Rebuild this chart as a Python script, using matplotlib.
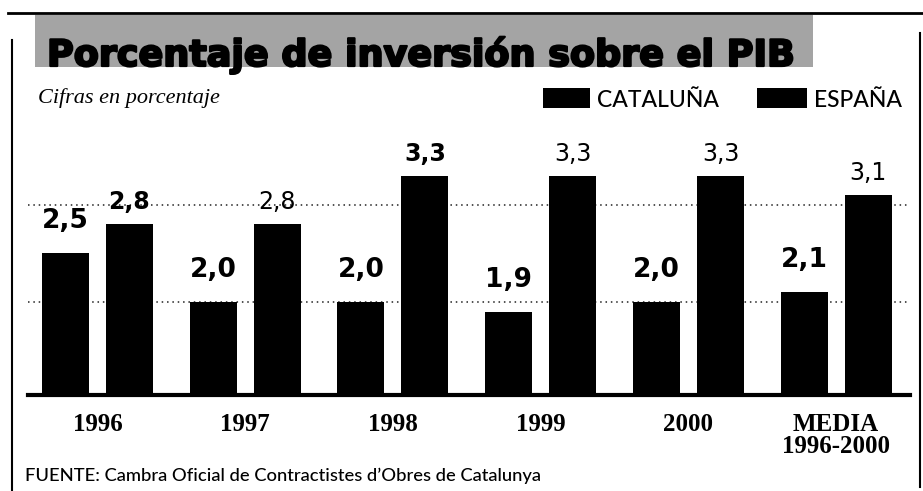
import matplotlib.pyplot as plt
import matplotlib.patches as mpatches
import matplotlib.patheffects as pe
import numpy as np

# datos
years = ['1996', '1997', '1998', '1999', '2000', 'MEDIA\n1996-2000']
cataluna = [2.5, 2.0, 2.0, 1.9, 2.0, 2.1]
espana = [2.8, 2.8, 3.3, 3.3, 3.3, 3.1]
cat_labels = ['2,5', '2,0', '2,0', '1,9', '2,0', '2,1']
esp_labels = ['2,8', '2,8', '3,3', '3,3', '3,3', '3,1']
esp_weights = ['bold', 'normal', 'bold', 'normal', 'normal', 'normal']

W, H = 923, 491
SANS = ['Lato', 'DejaVu Sans']
WIDE = ['DejaVu Sans']
SERIF = ['Liberation Serif', 'DejaVu Serif']


def fx(px):
    return px / W


def fy(py):
    return 1 - py / H


def box(x0, y0, x1, y1, color, z=0):
    fig.add_artist(mpatches.Rectangle((fx(x0), fy(y1)), fx(x1) - fx(x0), fy(y0) - fy(y1),
                                      transform=fig.transFigure, color=color, lw=0, zorder=z))


fig = plt.figure(figsize=(W / 100, H / 100), dpi=100)
fig.patch.set_facecolor('white')

# marco y cabecera
fig.add_artist(plt.Line2D([fx(8), fx(923)], [fy(13), fy(13)], color='black', lw=2))
fig.add_artist(plt.Line2D([fx(12), fx(12)], [fy(40), fy(491)], color='black', lw=1.5))
fig.add_artist(plt.Line2D([fx(920), fx(920)], [fy(33), fy(487)], color='black', lw=1.5))
box(35, 15, 813, 67, '#a4a4a4')

title = fig.text(fx(47), fy(66), 'Porcentaje de inversión sobre el PIB', family=WIDE,
                 weight='bold', fontsize=27, va='baseline', ha='left', color='black',
                 path_effects=[pe.withStroke(linewidth=1.6, foreground='black')])
# ajustar el titulo al ancho de la banda gris
r = fig.canvas.get_renderer()
tw = title.get_window_extent(r).width
title.set_fontsize(27 * 748 / tw)

fig.text(fx(38), fy(103), 'Cifras en porcentaje', family=SERIF, style='italic',
         fontsize=16, va='baseline', ha='left')

# leyenda
for x0, x1, name in [(543, 590, 'CATALUÑA'), (757, 807, 'ESPAÑA')]:
    box(x0, 88, x1, 108, 'black')
    fig.text(fx(x1 + 7), fy(107), name, family=SANS, weight=500, fontsize=16.5,
             va='baseline', ha='left')

fig.text(fx(25), fy(481), 'FUENTE: Cambra Oficial de Contractistes d’Obres de Catalunya',
         family=SANS, weight=500, fontsize=13.2, va='baseline', ha='left')

# grafico de barras
ax = fig.add_axes([fx(28), fy(395), fx(910) - fx(28), fy(140) - fy(395)])
ylo, yhi = 1.04, 3.67
x = np.arange(len(years))
off, bw = 0.217, 0.318

ax.bar(x - off, cataluna, bw, color='black', zorder=3)
ax.bar(x + off, espana, bw, color='black', zorder=3)

for v in [2.0, 3.0]:
    ax.axhline(v, color='#222222', lw=1.1, ls=(0, (1, 2.5)), zorder=1)

for xi, v, lab in zip(x - off, cataluna, cat_labels):
    ax.annotate(lab, (xi, v), xytext=(0, 18), textcoords='offset points',
                ha='center', va='baseline', family=WIDE, weight='bold', fontsize=19)
for xi, v, lab, wt in zip(x + off, espana, esp_labels, esp_weights):
    ax.annotate(lab, (xi, v), xytext=(0, 11), textcoords='offset points',
                ha='center', va='baseline', family=WIDE, weight=wt, fontsize=17)

ax.set_xlim(-0.47, 5.5)
ax.set_ylim(ylo, yhi)
ax.set_yticks([])
ax.set_xticks(x, years)
ax.tick_params(axis='x', length=0, pad=13)
for lbl in ax.get_xticklabels():
    lbl.set_family(SERIF)
    lbl.set_weight('bold')
    lbl.set_fontsize(18)
    lbl.set_linespacing(0.95)

for side in ['top', 'left', 'right']:
    ax.spines[side].set_visible(False)
ax.spines['bottom'].set_linewidth(3)
ax.patch.set_alpha(0)

fig.savefig('out.png', dpi=100)
